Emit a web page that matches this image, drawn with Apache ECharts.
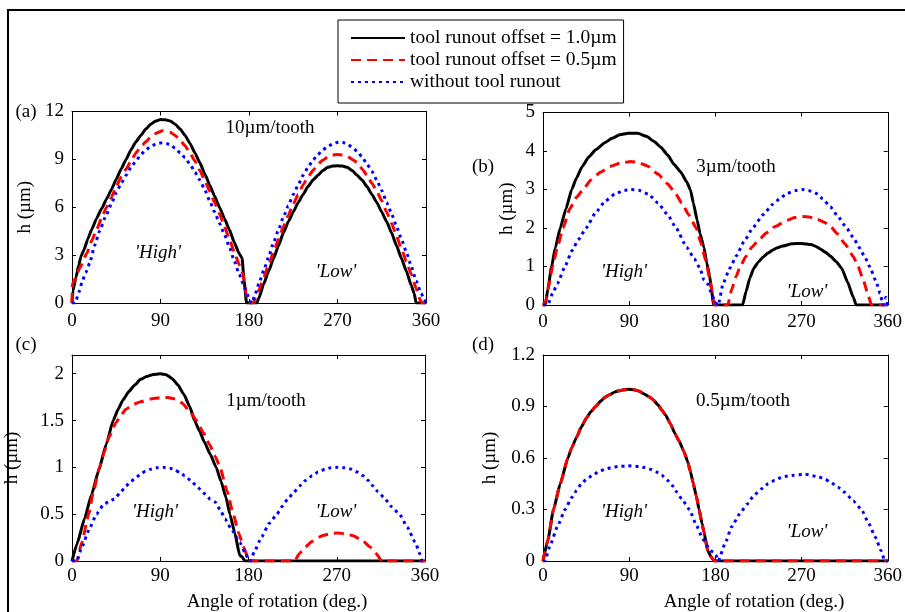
<!DOCTYPE html>
<html>
<head>
<meta charset="utf-8">
<script src="https://cdn.jsdelivr.net/npm/echarts@6/dist/echarts.min.js"></script>
<style>
html,body{margin:0;padding:0;background:#fff;}
#chart{width:905px;height:612px;}
</style>
</head>
<body>
<div id="chart"></div>
<script>
// ---------- DATA (angle in deg, h in µm) ----------
const seriesNames = ['tool runout offset = 1.0\u00b5m', 'tool runout offset = 0.5\u00b5m', 'without tool runout'];
const xTicks = [0, 90, 180, 270, 360];

// (a) 10 µm/tooth
const a_black = [[0,0],[1,0.8],[4,1.6],[7,2.4],[9,2.9],[12,3.3],[16,4.0],[20,4.6],[25,5.3],[30,5.9],[35,6.5],[40,7.1],[45,7.75],[50,8.4],[55,9.0],[60,9.6],[65,10.1],[70,10.5],[75,10.9],[80,11.2],[85,11.4],[90,11.5],[95,11.48],[100,11.4],[105,11.2],[110,10.9],[115,10.5],[120,10.0],[125,9.4],[130,8.8],[135,8.1],[140,7.4],[145,6.7],[150,6.0],[155,5.3],[160,4.6],[165,3.8],[170,3.1],[173,2.8],[175,1.4],[177.5,0],[188,0],[190,0.3],[195,1.2],[200,2.0],[205,2.8],[210,3.6],[215,4.4],[220,5.1],[225,5.7],[230,6.3],[235,6.8],[240,7.3],[245,7.7],[250,8.0],[255,8.3],[260,8.5],[265,8.58],[270,8.6],[275,8.58],[280,8.5],[285,8.3],[290,8.0],[295,7.7],[300,7.3],[305,6.8],[310,6.3],[315,5.7],[320,5.1],[325,4.4],[330,3.6],[335,2.8],[340,2.0],[345,1.1],[348,0.6],[350,0],[360,0]];
const a_red = [[0,0],[0.5,1.2],[3,1.5],[8,2.2],[15,3.1],[20,3.9],[25,4.6],[30,5.3],[35,6.0],[40,6.6],[45,7.3],[50,7.9],[55,8.4],[60,8.9],[65,9.4],[70,9.8],[75,10.1],[80,10.4],[86,10.65],[92,10.8],[96,10.78],[100,10.7],[105,10.5],[110,10.2],[115,9.85],[120,9.4],[125,8.9],[130,8.3],[135,7.7],[140,7.0],[145,6.3],[150,5.6],[155,4.8],[160,4.0],[165,3.2],[170,2.4],[174,1.8],[177,0.6],[179,0.1],[181,0],[184,0],[190,0.8],[195,1.6],[200,2.4],[205,3.2],[210,4.0],[215,4.8],[220,5.5],[225,6.2],[230,6.8],[235,7.4],[240,7.9],[245,8.3],[250,8.7],[255,8.95],[260,9.15],[265,9.27],[270,9.3],[275,9.27],[280,9.2],[285,9.0],[290,8.8],[295,8.4],[300,8.0],[305,7.5],[310,7.0],[315,6.4],[320,5.7],[325,5.0],[330,4.2],[335,3.4],[340,2.6],[345,1.8],[350,0.9],[354,0.2],[356,0],[360,0]];
const a_blue = [[0,0],[3,0],[8,0.8],[10,1.3],[14,1.9],[18,2.5],[23,3.6],[28,4.5],[34,5.4],[40,6.2],[45,6.9],[50,7.5],[55,8.0],[60,8.5],[65,8.9],[70,9.3],[75,9.6],[80,9.8],[86,9.98],[92,10.05],[96,10.0],[100,9.9],[105,9.7],[110,9.4],[115,9.1],[120,8.7],[125,8.2],[130,7.7],[135,7.1],[140,6.4],[145,5.7],[150,5.0],[155,4.3],[160,3.5],[165,2.65],[170,1.8],[176,0.9],[180,0.3],[182,0],[183,0],[186,0.5],[190,1.2],[195,2.05],[200,2.9],[205,3.8],[210,4.6],[215,5.4],[220,6.1],[225,6.8],[230,7.4],[235,8.0],[240,8.5],[245,8.95],[250,9.3],[255,9.6],[260,9.8],[266,10.0],[272,10.1],[276,10.05],[280,9.95],[285,9.75],[290,9.5],[295,9.15],[300,8.7],[305,8.25],[310,7.7],[315,7.05],[320,6.3],[325,5.6],[330,4.8],[335,4.0],[340,3.2],[345,2.3],[350,1.4],[355,0.6],[358,0.3],[360,0]];

// (b) 3 µm/tooth
const b_black = [[0,0],[2.4,0],[5,0.4],[9,1.0],[13,1.5],[18,2.0],[24,2.5],[30,3.0],[35,3.3],[41,3.6],[48,3.85],[55,4.03],[65,4.22],[72,4.33],[80,4.42],[89,4.46],[99,4.46],[108,4.38],[116,4.25],[123,4.1],[130,3.9],[137,3.65],[144,3.45],[150,3.2],[154,2.99],[157,2.65],[161,2.2],[164,1.85],[168,1.5],[171,1.1],[174,0.75],[176,0.4],[178,0],[208.5,0],[212,0.35],[216,0.7],[220,0.95],[225,1.12],[230,1.25],[235,1.35],[240,1.43],[245,1.49],[250,1.53],[260,1.59],[270,1.6],[280,1.57],[285,1.52],[290,1.45],[295,1.37],[300,1.27],[306,1.13],[312,0.95],[318,0.6],[324,0.2],[327,0],[360,0]];
const b_red = [[0,0],[3,0.1],[6,0.5],[10,1.0],[15,1.5],[21,2.0],[28,2.5],[35,2.8],[42,3.0],[50,3.25],[60,3.45],[70,3.6],[80,3.68],[92,3.73],[100,3.7],[110,3.6],[120,3.4],[130,3.15],[137,2.95],[145,2.65],[152,2.35],[160,2.0],[165,1.6],[170,1.15],[174,0.7],[177,0.3],[179,0],[193,0],[197,0.4],[201.6,0.74],[206,1.0],[211.8,1.26],[218,1.5],[225.4,1.69],[233,1.87],[242.5,2.04],[255,2.2],[263,2.27],[271,2.3],[279,2.28],[286,2.23],[293.6,2.15],[300,2.05],[307,1.86],[315,1.6],[324,1.26],[329,1.0],[334.5,0.65],[339,0.3],[343,0],[360,0]];
const b_blue = [[0,0],[5,0],[10,0.3],[15,0.55],[23,1.0],[30,1.4],[37,1.7],[45,2.0],[55,2.4],[65,2.7],[75,2.88],[85,2.98],[92,3.0],[100,2.98],[110,2.88],[120,2.65],[130,2.35],[139,2.0],[150,1.5],[158,1.2],[164,0.95],[168,0.65],[172,0.55],[176,0.3],[180,0.05],[183,0],[188,0.55],[195,0.95],[202,1.28],[210,1.65],[219,2.0],[230,2.35],[240,2.62],[248,2.78],[255,2.9],[263,2.97],[271,3.0],[278,2.97],[285,2.9],[292,2.76],[300,2.55],[308,2.3],[317,2.0],[324,1.75],[330,1.5],[336,1.25],[341,1.0],[348,0.6],[352,0.3],[355,0],[358,0.2],[360,0]];

// (c) 1 µm/tooth
const c_black = [[0,0],[5,0.18],[13,0.46],[20,0.71],[27,0.96],[35,1.25],[42,1.5],[47,1.62],[52,1.72],[58,1.81],[64,1.88],[70,1.94],[76,1.97],[82,1.99],[90,2.0],[96,1.99],[102,1.95],[108,1.88],[114,1.78],[120,1.65],[125,1.5],[130,1.39],[135,1.27],[141,1.14],[147,1.0],[152,0.85],[157,0.68],[161,0.5],[166,0.3],[171,0.06],[174,0.04],[176,0],[360,0]];
const c_red = [[0,0],[5,0],[10,0.2],[17,0.5],[22,0.75],[28,1.0],[33,1.17],[38,1.33],[45,1.48],[50,1.56],[55,1.62],[62,1.67],[70,1.7],[80,1.73],[90,1.745],[98,1.745],[105,1.73],[112,1.69],[120,1.6],[127,1.5],[134,1.37],[140,1.25],[146,1.12],[151,1.0],[158,0.75],[164.5,0.5],[170,0.3],[175,0.15],[179,0.05],[180,0],[227,0],[232,0.08],[238,0.15],[245,0.21],[255,0.27],[263,0.29],[271,0.3],[279,0.29],[287,0.27],[297,0.21],[304,0.15],[310,0.08],[316,0],[360,0]];
const c_blue = [[0,0],[5,0],[10,0.15],[18,0.35],[25,0.5],[32,0.6],[38,0.64],[43,0.66],[50,0.74],[55,0.8],[60,0.85],[65,0.89],[70,0.93],[75,0.96],[80,0.98],[86,0.995],[93,1.0],[100,0.99],[105,0.97],[110,0.945],[115,0.91],[121,0.86],[127,0.8],[135,0.72],[141,0.66],[146,0.63],[151,0.55],[156,0.45],[162,0.35],[171,0.2],[176,0.1],[181,0],[182,0],[186,0.1],[193,0.25],[201,0.4],[209,0.5],[214,0.58],[220,0.66],[226,0.73],[232,0.8],[238,0.86],[245,0.91],[251,0.95],[258,0.98],[264,0.995],[271,1.0],[278,0.995],[285,0.98],[291,0.95],[297,0.91],[302,0.86],[307,0.8],[312,0.74],[318,0.68],[326,0.58],[334,0.5],[342,0.36],[350,0.2],[355,0.07],[357,0],[360,0]];

// (d) 0.5 µm/tooth
const d_black = [[0,0],[5,0.12],[11,0.3],[18,0.45],[26,0.6],[30,0.66],[35,0.72],[40,0.78],[45,0.83],[50,0.87],[55,0.9],[60,0.93],[65,0.955],[70,0.97],[75,0.985],[82,0.995],[89,1.0],[95,0.998],[100,0.99],[105,0.975],[110,0.96],[115,0.94],[120,0.91],[124,0.88],[128,0.85],[133,0.8],[138,0.74],[142,0.7],[147,0.64],[151,0.58],[154,0.52],[157,0.45],[160,0.38],[163,0.3],[166,0.22],[168,0.17],[172,0.06],[176,0.02],[179,0],[360,0]];
const d_red = [[0,0],[5,0.12],[11,0.3],[18,0.45],[26,0.6],[30,0.66],[35,0.72],[40,0.78],[45,0.83],[50,0.87],[55,0.9],[60,0.93],[65,0.955],[70,0.97],[75,0.985],[82,0.995],[89,1.0],[95,0.998],[100,0.99],[105,0.975],[110,0.96],[115,0.94],[120,0.91],[124,0.88],[128,0.85],[133,0.8],[138,0.74],[142,0.7],[147,0.64],[151,0.58],[154,0.52],[157,0.45],[160,0.38],[163,0.3],[166,0.22],[168,0.17],[172,0.06],[176,0.02],[179,0],[360,0]];
const d_blue = [[0,0],[2,0],[8,0.1],[15,0.2],[23,0.3],[30,0.37],[35,0.41],[40,0.45],[46,0.48],[52,0.5],[58,0.52],[65,0.535],[72,0.545],[78,0.55],[89,0.555],[100,0.55],[106,0.545],[112,0.535],[118,0.52],[124,0.5],[130,0.47],[135,0.44],[140,0.4],[145,0.36],[153,0.3],[160,0.21],[166,0.14],[170,0.1],[175,0.06],[178,0.05],[181,0.03],[183,0],[190,0.1],[197,0.2],[206,0.28],[213,0.33],[220,0.38],[228,0.42],[235,0.45],[242,0.47],[250,0.49],[262,0.5],[274,0.505],[288,0.49],[295,0.475],[300,0.46],[308,0.43],[315,0.4],[324,0.35],[332.6,0.3],[340,0.22],[347,0.14],[353,0.06],[357,0],[360,0]];

const yMax = [12, 5, 2.2, 1.2];
const yInterval = [3, 1, 0.5, 0.3];
const panelLabels = ['(a)', '(b)', '(c)', '(d)'];
const feedLabels = ['10\u00b5m/tooth', '3\u00b5m/tooth', '1\u00b5m/tooth', '0.5\u00b5m/tooth'];
const yName = 'h (\u00b5m)';
const xName = 'Angle of rotation (deg.)';
const panelData = [[a_black, a_red, a_blue], [b_black, b_red, b_blue], [c_black, c_red, c_blue], [d_black, d_red, d_blue]];

// ---------- LAYOUT / STYLE ----------
const FONT = '"Liberation Serif", "Times New Roman", serif';
const FS = 19;
const grids = [
  {left: 72, top: 111.5, width: 354, height: 191.5},
  {left: 543, top: 112.5, width: 352, height: 192.5},
  {left: 72, top: 355, width: 353, height: 206},
  {left: 543, top: 355, width: 351, height: 206}
];
const yNameGap = [37, 26, 50, 43];
const xLabelMargin = [9, 8, 6, 6];
const lineStyles = [
  {color: '#000000', width: 3, type: 'solid'},
  {color: '#ff0000', width: 3, type: [10, 6]},
  {color: '#0000ff', width: 3, type: [3, 4]}
];

const xAxes = [], yAxes = [], series = [];
grids.forEach((g, i) => {
  const tick = {show: true, inside: true, length: 4, lineStyle: {color: '#000', width: 1}};
  const line = {show: true, onZero: false, lineStyle: {color: '#000', width: 1}};
  xAxes.push({type: 'value', gridIndex: i, position: 'bottom', min: 0, max: 360, interval: 90,
    axisLine: line, axisTick: tick, splitLine: {show: false},
    axisLabel: {color: '#000', fontSize: FS, fontFamily: FONT, margin: xLabelMargin[i]}});
  xAxes.push({type: 'value', gridIndex: i, position: 'top', min: 0, max: 360, interval: 90,
    axisLine: line, axisTick: tick, splitLine: {show: false}, axisLabel: {show: false}});
  const ym = yMax[i];
  yAxes.push({type: 'value', gridIndex: i, position: 'left', min: 0, max: ym, interval: yInterval[i],
    axisLine: line, axisTick: tick, splitLine: {show: false},
    name: yName, nameLocation: 'middle', nameGap: yNameGap[i], nameRotate: 90,
    nameTextStyle: {color: '#000', fontSize: FS, fontFamily: FONT},
    axisLabel: {color: '#000', fontSize: FS, fontFamily: FONT, margin: 8,
      formatter: v => (i === 2 && Math.abs(v - 2.2) < 1e-6) ? '' : String(+v.toFixed(2))}});
  yAxes.push({type: 'value', gridIndex: i, position: 'right', min: 0, max: ym, interval: yInterval[i],
    axisLine: line, axisTick: tick, splitLine: {show: false}, axisLabel: {show: false}});
  panelData[i].forEach((d, k) => {
    series.push({
      type: 'line', name: seriesNames[k], xAxisIndex: 2 * i, yAxisIndex: 2 * i,
      data: d, showSymbol: false, symbol: 'none', smooth: 0.15, smoothMonotone: 'x', clip: true,
      lineStyle: Object.assign({}, lineStyles[k]), itemStyle: {color: lineStyles[k].color},
      z: 2 + k, silent: true
    });
  });
});

function txt(t, x, y, opts) {
  return {type: 'text', silent: true, z: 10,
    style: Object.assign({text: t, x: x, y: y, fill: '#000', font: FS + 'px ' + FONT,
      align: 'center', verticalAlign: 'middle'}, opts || {})};
}
const italic = 'italic ' + FS + 'px ' + FONT;
const graphics = [
  {type: 'rect', silent: true, z: 0, shape: {x: 8, y: 10, width: 1000, height: 700},
   style: {fill: 'none', stroke: '#000', lineWidth: 2}},
  txt(panelLabels[0], 26, 112), txt(panelLabels[1], 483, 167),
  txt(panelLabels[2], 26, 345), txt(panelLabels[3], 483, 345),
  txt(feedLabels[0], 270, 128), txt(feedLabels[1], 736, 167),
  txt(feedLabels[2], 266, 401), txt(feedLabels[3], 743, 401),
  txt("'High'", 158, 253, {font: italic}), txt("'Low'", 336, 272, {font: italic}),
  txt("'High'", 624, 272, {font: italic}), txt("'Low'", 807, 292, {font: italic}),
  txt("'High'", 155, 512, {font: italic}), txt("'Low'", 336, 512, {font: italic}),
  txt("'High'", 624, 512, {font: italic}), txt("'Low'", 807, 532, {font: italic}),
  txt(xName, 277, 602), txt(xName, 754, 602)
];

const chart = echarts.init(document.getElementById('chart'), null, {renderer: 'canvas'});
chart.setOption({
  animation: false,
  backgroundColor: '#fff',
  grid: grids.map(g => Object.assign({containLabel: false}, g)),
  xAxis: xAxes,
  yAxis: yAxes,
  legend: {
    data: seriesNames, orient: 'vertical', left: 338, top: 20,
    padding: [8, 7, 11, 12], itemGap: 2, itemWidth: 54, itemHeight: 14,
    borderColor: '#000', borderWidth: 1, backgroundColor: '#fff',
    itemStyle: {opacity: 0, borderWidth: 0},
    textStyle: {color: '#000', fontSize: 19.5, fontFamily: FONT},
    selectedMode: false, z: 20
  },
  graphic: graphics,
  series: series
});
</script>
</body>
</html>
